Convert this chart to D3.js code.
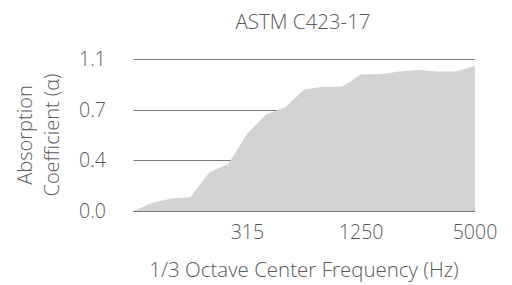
<!DOCTYPE html>
<html>
<head>
<meta charset="utf-8">
<script src="https://cdn.jsdelivr.net/npm/d3@7"></script>
<style>
  body { margin: 0; background: #fff; }
  text { font-family: "Open Sans", "Liberation Sans", sans-serif; font-weight: 300; fill: #595959; }
</style>
</head>
<body>
<svg id="chart" width="512" height="285"></svg>
<script>
// 1/3 octave bands and absorption values
var freqs = [80, 100, 125, 160, 200, 250, 315, 400, 500, 630, 800, 1000, 1250, 1600, 2000, 2500, 3150, 4000, 5000];
var alpha = [0.00, 0.06, 0.09, 0.10, 0.28, 0.34, 0.56, 0.70, 0.75, 0.88, 0.90, 0.90, 0.99, 0.99, 1.01, 1.02, 1.01, 1.01, 1.05];
var xTicks = [315, 1250, 5000];
var yTicks = [0, 1.1 / 3, 2.2 / 3, 1.1];

var svg = d3.select("#chart");

var x = d3.scalePoint().domain(freqs).range([133.5, 475]);
var y = d3.scaleLinear().domain([0, 1.1]).range([211, 59]);

// gridlines go behind the area
svg.selectAll(".grid")
    .data(yTicks)
    .enter().append("line")
    .attr("class", "grid")
    .attr("x1", 133.5)
    .attr("x2", 475)
    .attr("y1", function(d) { return Math.round(y(d)) + 0.5; })
    .attr("y2", function(d) { return Math.round(y(d)) + 0.5; })
    .style("stroke", "#7a7a7a")
    .style("stroke-width", 1);

var area = d3.area()
    .x(function(d, i) { return x(freqs[i]); })
    .y0(y(0))
    .y1(function(d) { return y(d); });

svg.append("path")
    .datum(alpha)
    .attr("d", area)
    .style("fill", "#d3d3d3");

// y tick labels
svg.selectAll(".ylab")
    .data(yTicks)
    .enter().append("text")
    .attr("class", "ylab")
    .attr("x", 106)
    .attr("y", function(d) { return y(d); })
    .attr("dy", "0.36em")
    .attr("text-anchor", "end")
    .style("font-size", "19.5px")
    .text(d3.format(".1f"));

// x tick labels
svg.selectAll(".xlab")
    .data(xTicks)
    .enter().append("text")
    .attr("class", "xlab")
    .attr("x", function(d) { return x(d); })
    .attr("y", 239)
    .attr("text-anchor", "middle")
    .style("font-size", "19.5px")
    .text(function(d) { return d; });

svg.append("text")
    .attr("x", 303)
    .attr("y", 29)
    .attr("text-anchor", "middle")
    .style("font-size", "20.5px")
    .text("ASTM C423-17");

svg.append("text")
    .attr("x", 304)
    .attr("y", 277)
    .attr("text-anchor", "middle")
    .style("font-size", "20.5px")
    .text("1/3 Octave Center Frequency (Hz)");

var ylabel = svg.append("text")
    .attr("transform", "translate(0,135) rotate(-90)")
    .attr("text-anchor", "middle")
    .style("font-size", "20px");
ylabel.append("tspan").attr("x", 0).attr("y", 32).text("Absorption");
ylabel.append("tspan").attr("x", 0).attr("y", 59).text("Coefficient (\u03b1)");
</script>
</body>
</html>
